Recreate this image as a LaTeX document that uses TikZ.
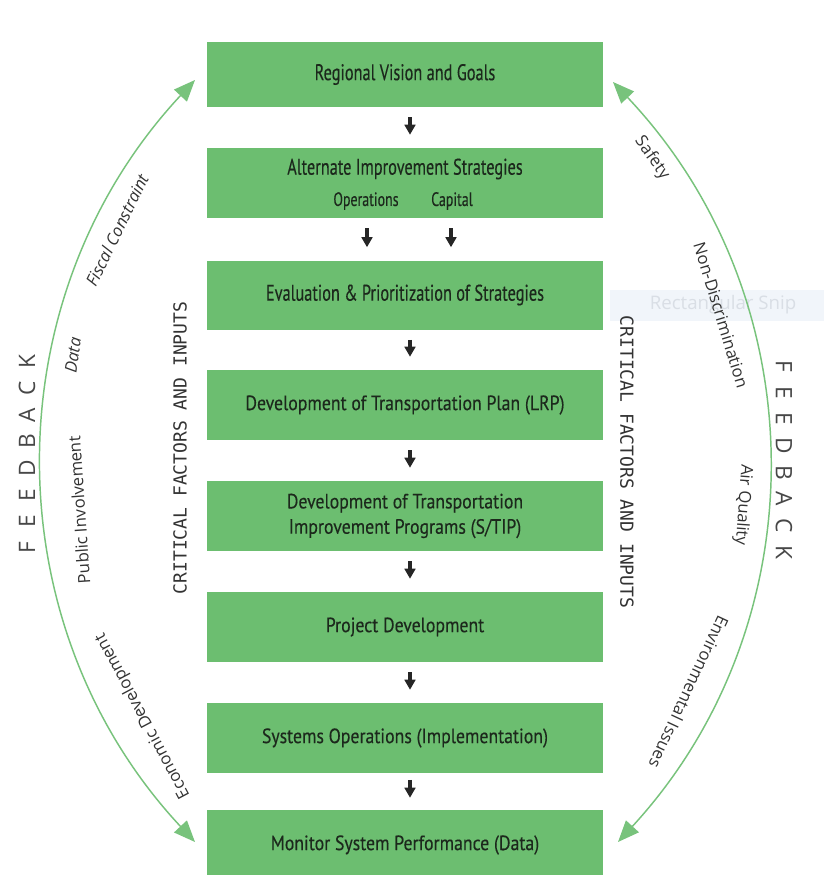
\documentclass[tikz,border=0pt]{standalone}
\usepackage{fontspec}
\setmainfont{Open Sans}
\newfontfamily\stagefont[FakeStretch=0.86,FakeBold=0.25]{PT Sans}
\newfontfamily\condfont[FakeStretch=0.72,FakeBold=0.25]{PT Sans}
\newfontfamily\critfont{DejaVu Sans Mono}
\usetikzlibrary{arrows.meta,positioning}

\definecolor{boxgreen}{HTML}{6CBE70}
\definecolor{arcgreen}{HTML}{78C37C}
\definecolor{boxtext}{HTML}{1C281C}
\definecolor{labgray}{HTML}{333333}
\definecolor{snipfill}{HTML}{F1F5FA}
\definecolor{sniptext}{HTML}{D9DEE5}

\tikzset{
  stage/.style={fill=boxgreen, minimum width=297pt, inner sep=0pt, text=boxtext, align=center},
  cond/.style={font=\condfont\fontsize{17}{19}\selectfont},
  plain/.style={font=\stagefont\fontsize{15.5}{19}\selectfont},
  sub/.style={font=\condfont\fontsize{14.5}{16}\selectfont, text=boxtext, inner sep=0pt},
  flow/.style={-{Triangle[length=7.5pt,width=8pt]}, line width=3pt, black!85,
    shorten <=7.5pt, shorten >=9.75pt},
  feedback/.style={arcgreen, line width=1.1pt,
    {Triangle[length=16pt,width=13pt]}-{Triangle[length=16pt,width=13pt]}},
  arclab/.style={font=\fontsize{12.5}{14}\selectfont, text=labgray, inner sep=0pt},
  arcital/.style={arclab, font=\itshape\fontsize{12.5}{14}\selectfont},
  crit/.style={font=\critfont\fontsize{13.5}{15}\selectfont, text=labgray, inner sep=0pt},
  fbletter/.style={font=\fontsize{17}{17}\selectfont, text=labgray!90, inner sep=0pt}
}

\begin{document}
\begin{tikzpicture}[x=0.75pt, y=-0.75pt]
  \clip (0,0) rectangle (824,875);
  \fill[white] (0,0) rectangle (824,875);
  % screen snip left over in the capture
  \fill[snipfill] (610,290) rectangle (824,321);
  \node[font=\fontsize{14}{16}\selectfont, text=sniptext] (snip) at (723,305) {Rectangular Snip};

  % the stages
  \node[stage, cond, minimum height=48.75pt] (r1) at (405,74.5) {Regional Vision and Goals};
  \node[stage, minimum height=52.5pt] (r2) at (405,183) {};
  \node[cond, text=boxtext, inner sep=0pt] (r2t) at (405,169) {Alternate Improvement Strategies};
  \node[sub] (ops) at (366,201) {Operations};
  \node[sub] (cap) at (452,201) {Capital};
  \node[stage, cond, minimum height=51.75pt] (r3) at (405,295) {Evaluation \& Prioritization of Strategies};
  \node[stage, plain, minimum height=52.5pt] (r4) at (405,405) {Development of Transportation Plan (LRP)};
  \node[stage, plain, minimum height=52.5pt] (r5) at (405,516) {Development of Transportation\\Improvement Programs (S/TIP)};
  \node[stage, plain, minimum height=52.5pt] (r6) at (405,627) {Project Development};
  \node[stage, plain, minimum height=52.5pt] (r7) at (405,738) {Systems Operations (Implementation)};
  \node[stage, plain, minimum height=52.5pt] (r8) at (405,845) {Monitor System Performance (Data)};

  % flow arrows
  \coordinate (ax) at (410,0);
  \coordinate (ao) at (367,0);
  \coordinate (ac) at (451,0);
  \draw[flow] (r1.south -| ax) -- (r2.north -| ax);
  \draw[flow] (r2.south -| ao) -- (r3.north -| ao);
  \draw[flow] (r2.south -| ac) -- (r3.north -| ac);
  \draw[flow] (r3.south -| ax) -- (r4.north -| ax);
  \draw[flow] (r4.south -| ax) -- (r5.north -| ax);
  \draw[flow] (r5.south -| ax) -- (r6.north -| ax);
  \draw[flow] (r6.south -| ax) -- (r7.north -| ax);
  \draw[flow, shorten <=5pt, shorten >=9pt] (r7.south -| ax) -- (r8.north -| ax);

  % side captions
  \node[crit, rotate=90] (critl) at (180,448) {CRITICAL FACTORS AND INPUTS};
  \node[crit, rotate=-90] (critr) at (627,462) {CRITICAL FACTORS AND INPUTS};

  % feedback loops
  \coordinate (lt) at (195,80);
  \coordinate (lb) at (195,842);
  \coordinate (rt) at (613,82);
  \coordinate (rb) at (618,842);
  \draw[feedback] (lb) to[bend left=43] (lt);
  \draw[feedback] (rt) to[bend left=43] (rb);

  \node[arcital, rotate=64] (fiscal) at (117,230) {Fiscal Constraint};
  \node[arcital, rotate=82] (data) at (73,355) {Data};
  \node[arclab, rotate=94] (public) at (79,510) {Public Involvement};
  \node[arclab, rotate=118] (econ) at (143,716) {Economic Development};
  \node[arclab, rotate=-55] (safety) at (652,158) {Safety};
  \node[arclab, rotate=-73] (nondisc) at (721,315) {Non-Discrimination};
  \node[arclab, rotate=-94] (air) at (743,505) {Air Quality};
  \node[arclab, rotate=-115] (env) at (689,692) {Environmental Issues};

  \foreach \ch [count=\i] in {F,E,E,D,B,A,C,K}
    \node[fbletter, rotate=90] (fl\i) at (27,{548-26.6*(\i-1)}) {\ch};
  \foreach \ch [count=\i] in {F,E,E,D,B,A,C,K}
    \node[fbletter, rotate=-90] (fr\i) at (784,{366+26.6*(\i-1)}) {\ch};
\end{tikzpicture}
\end{document}
